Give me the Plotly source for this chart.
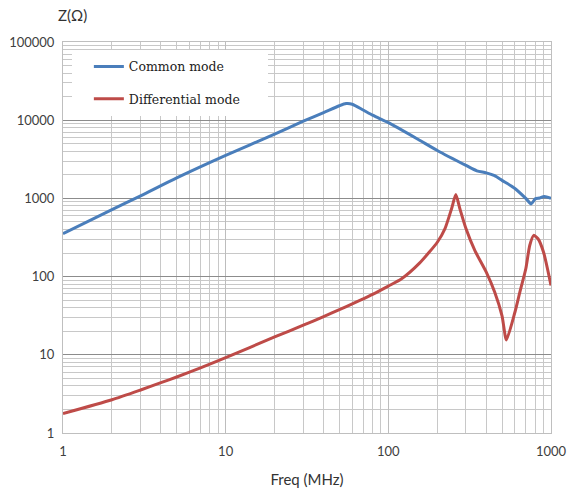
import plotly.graph_objects as go

# Data
freq_common = [1, 2, 3, 5, 10, 20, 30, 40, 50, 55, 60, 70, 80, 90, 100, 150, 200, 300,
               350, 400, 450, 500, 600, 700, 755, 800, 850, 910, 1000]
z_common = [353, 720, 1080, 1830, 3550, 6650, 9700, 12500, 15300, 16300, 16000, 13500,
            11600, 10300, 9300, 5800, 4100, 2640, 2250, 2120, 1950, 1700, 1340, 1000,
            850, 985, 1010, 1060, 1004]

freq_diff = [1, 2, 3, 4, 5, 7, 10, 20, 30, 40, 50, 60, 70, 80, 100, 120, 156, 200, 223,
             245, 260, 275, 300, 340, 400, 451, 500, 532, 600, 643, 700, 740, 783, 832,
             900, 1000]
z_diff = [1.77, 2.66, 3.55, 4.4, 5.2, 6.8, 9.2, 16.9, 23.9, 30.8, 37.7, 44.7, 51.9, 59.3, 75.6,
          93.2, 150, 275, 411, 743, 1120, 743, 411, 216, 114, 63, 31.5, 15.5, 35, 63, 126, 250,
          337, 305, 205, 77]

x_ticks = [1, 10, 100, 1000]
y_ticks = [1, 10, 100, 1000, 10000, 100000]
series_names = ["Common mode", "Differential mode"]
series_colors = ["#4A7EBB", "#BE4B48"]

minor_x = [m * 10 ** d for d in range(3) for m in range(2, 10)]
minor_y = [m * 10 ** d for d in range(5) for m in range(2, 10)]

fig = go.Figure()
fig.add_trace(go.Scatter(x=freq_common, y=z_common, mode="lines", name=series_names[0],
                         legendgroup="a",
                         line=dict(color=series_colors[0], width=3, shape="spline", smoothing=0.7)))
fig.add_trace(go.Scatter(x=freq_diff, y=z_diff, mode="lines", name=series_names[1],
                         legendgroup="b",
                         line=dict(color=series_colors[1], width=3, shape="spline", smoothing=0.6)))

tick_font = dict(family="Lato, Open Sans, sans-serif", size=13, color="#404040")

fig.update_layout(
    width=568, height=492,
    margin=dict(l=63, r=17, t=42, b=59),
    paper_bgcolor="white", plot_bgcolor="white",
    showlegend=True,
    legend=dict(x=0.053, y=0.975, xanchor="left", yanchor="top",
                bgcolor="rgba(0,0,0,0)", borderwidth=0,
                font=dict(family="DejaVu Serif, serif", size=12.5, color="#222222"),
                traceorder="grouped", tracegroupgap=13, itemwidth=30),
    xaxis=dict(type="log", range=[0, 3], tickvals=x_ticks, ticktext=[str(v) for v in x_ticks],
               tickfont=tick_font, ticks="outside", ticklen=6, tickcolor="rgba(0,0,0,0)",
               showline=True, linecolor="#bfbfbf", linewidth=1,
               mirror=True, showgrid=True, gridcolor="#bdbdbd", gridwidth=1, automargin=False,
               minor=dict(tickvals=minor_x, showgrid=True, gridcolor="#c8c8c8", gridwidth=1, ticks=""),
               title=dict(text="Freq (MHz)", font=dict(family="Lato, Open Sans, sans-serif", size=15, color="#333333"),
                          standoff=16),
               zeroline=False),
    yaxis=dict(type="log", range=[0, 5], tickvals=y_ticks, ticktext=[str(v) for v in y_ticks],
               tickfont=tick_font, ticks="outside", ticklen=5, tickcolor="rgba(0,0,0,0)",
               showline=True, linecolor="#bfbfbf", linewidth=1,
               mirror=True, showgrid=True, gridcolor="#8c8c8c", gridwidth=1, automargin=False,
               minor=dict(tickvals=minor_y, showgrid=True, gridcolor="#c8c8c8", gridwidth=1, ticks=""),
               zeroline=False),
    shapes=[dict(type="rect", xref="paper", yref="paper", layer="above",
                 x0=(72 - 63) / 488, x1=(268 - 63) / 488,
                 y0=1 - (116 - 42) / 391, y1=1 - (50 - 42) / 391,
                 fillcolor="white", line=dict(width=0))],
    annotations=[dict(text="Z(Ω)", xref="paper", yref="paper", x=(72 - 63) / 488, y=1.0,
                      yshift=27, xanchor="center", yanchor="middle", showarrow=False,
                      font=dict(family="Lato, Open Sans, sans-serif", size=15, color="#333333"))],
)

fig.write_html("out.html", config={"displayModeBar": False},
               post_script="document.body.style.margin='0';document.body.style.padding='0';")
